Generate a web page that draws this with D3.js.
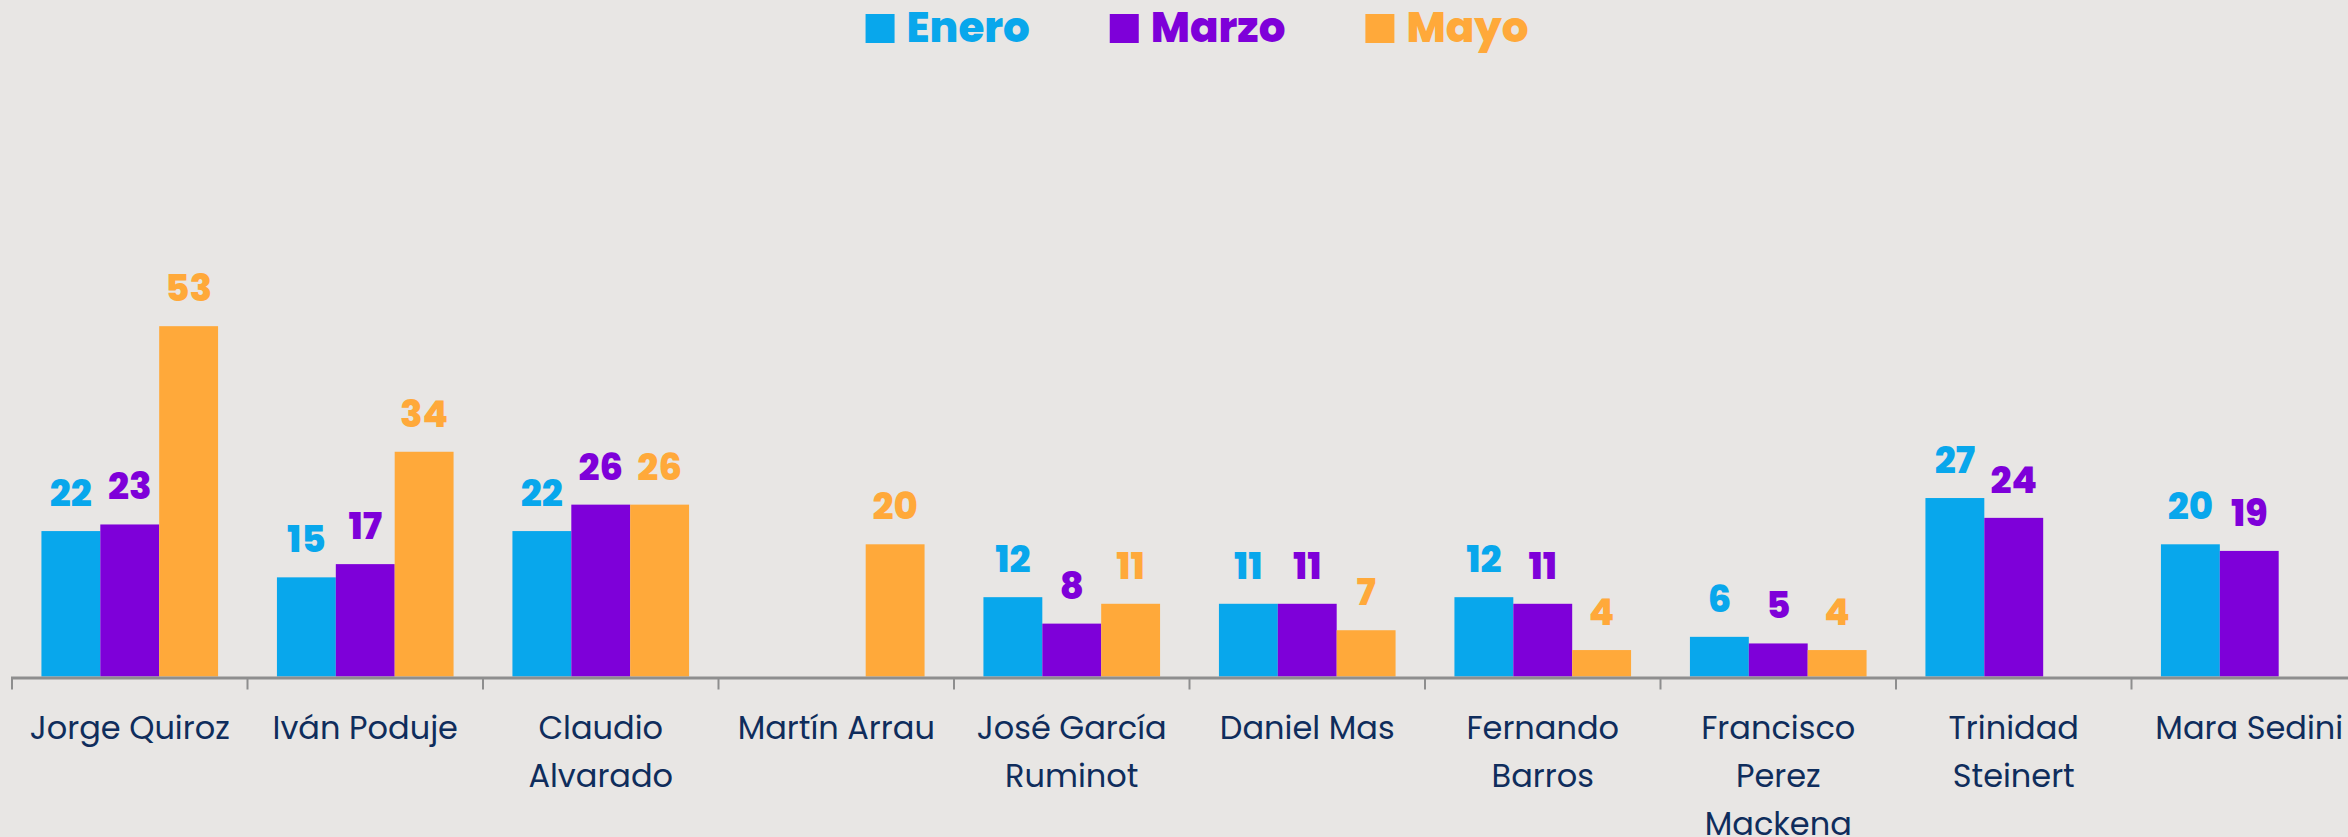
<!DOCTYPE html>
<html><head><meta charset="utf-8">
<script src="https://cdn.jsdelivr.net/npm/d3@7"></script>
<style>html,body{margin:0;padding:0;background:#e8e6e4;overflow:hidden}</style>
</head><body><svg id="c" width="2348" height="837"></svg>
<script>
const categories = ["Jorge Quiroz","Iván Poduje","Claudio\nAlvarado","Martín Arrau","José García\nRuminot","Daniel Mas","Fernando\nBarros","Francisco\nPerez\nMackena","Trinidad\nSteinert","Mara Sedini"];
const seriesNames = ["Enero","Marzo","Mayo"];
const enero = [22,15,22,null,12,11,12,6,27,20];
const marzo = [23,17,26,null,8,11,11,5,24,19];
const mayo  = [53,34,26,20,11,7,4,4,null,null];
const seriesColors = ["#08a7ec","#7e00d9","#ffa93a"];

const seriesValues = [enero, marzo, mayo];
const svg = d3.select("#c");
const axisY = 676.5;

const x0 = d3.scaleBand().domain(categories).range([12, 2367]).paddingInner(0).paddingOuter(0);
const x1 = d3.scaleBand().domain(seriesNames).range([0, x0.bandwidth()]).paddingInner(0).paddingOuter(0.5);
const y = d3.scaleLinear().domain([0, 60]).range([axisY, axisY - 60 * 6.61]);
const color = d3.scaleOrdinal().domain(seriesNames).range(seriesColors);

const rows = [];
categories.forEach((c, i) => {
  seriesNames.forEach((s, j) => {
    const v = seriesValues[j][i];
    if (v !== null && v !== undefined) rows.push({c, s, v});
  });
});

// bars
svg.append("g").selectAll("rect").data(rows).join("rect")
  .attr("x", d => x0(d.c) + x1(d.s))
  .attr("y", d => y(d.v))
  .attr("width", x1.bandwidth())
  .attr("height", d => axisY - y(d.v))
  .attr("fill", d => color(d.s));

// value labels
svg.append("g").selectAll("text").data(rows).join("text")
  .attr("x", d => x0(d.c) + x1(d.s) + x1.bandwidth() / 2)
  .attr("y", d => y(d.v) - 25)
  .attr("text-anchor", "middle")
  .attr("font-family", "Poppins, 'Open Sans', sans-serif")
  .attr("font-weight", 800)
  .attr("font-size", 37)
  .attr("fill", d => color(d.s))
  .text(d => d.v);

// axis
const ax = svg.append("g");
const [r0, r1] = x0.range();
ax.append("line").attr("x1", r0 - 1).attr("x2", r1).attr("y1", axisY + 1.5).attr("y2", axisY + 1.5)
  .attr("stroke", "#8e8e8e").attr("stroke-width", 3);
const boundaries = categories.map(c => x0(c)).concat([r1]);
ax.selectAll("line.t").data(boundaries).join("line").attr("class", "t")
  .attr("x1", d => d).attr("x2", d => d).attr("y1", axisY + 2).attr("y2", axisY + 13)
  .attr("stroke", "#8e8e8e").attr("stroke-width", 2);

// category labels
const cl = svg.append("g").selectAll("text").data(categories).join("text")
  .attr("x", d => x0(d) + x0.bandwidth() / 2)
  .attr("y", 739)
  .attr("text-anchor", "middle")
  .attr("font-family", "Poppins, 'Open Sans', sans-serif")
  .attr("font-size", 32)
  .attr("fill", "#0f2d5c");
cl.each(function(d) {
  const t = d3.select(this);
  d.split("\n").forEach((line, k) => {
    t.append("tspan").attr("x", x0(d) + x0.bandwidth() / 2).attr("dy", k === 0 ? 0 : 48).text(line);
  });
});

// legend
const lg = svg.append("g");
const items = seriesNames.map(s => {
  const g = lg.append("g");
  g.append("rect").attr("width", 29).attr("height", 29).attr("y", 14).attr("fill", color(s));
  const t = g.append("text").attr("x", 41).attr("y", 42)
    .attr("font-family", "Poppins, 'Open Sans', sans-serif")
    .attr("font-weight", 800).attr("font-size", 42).attr("fill", color(s)).text(s);
  return {g, w: 41 + t.node().getComputedTextLength()};
});
const gap = 80;
const total = d3.sum(items, d => d.w) + gap * (items.length - 1);
let cx = 1197 - total / 2;
items.forEach(it => { it.g.attr("transform", `translate(${cx},0)`); cx += it.w + gap; });
</script></body></html>
